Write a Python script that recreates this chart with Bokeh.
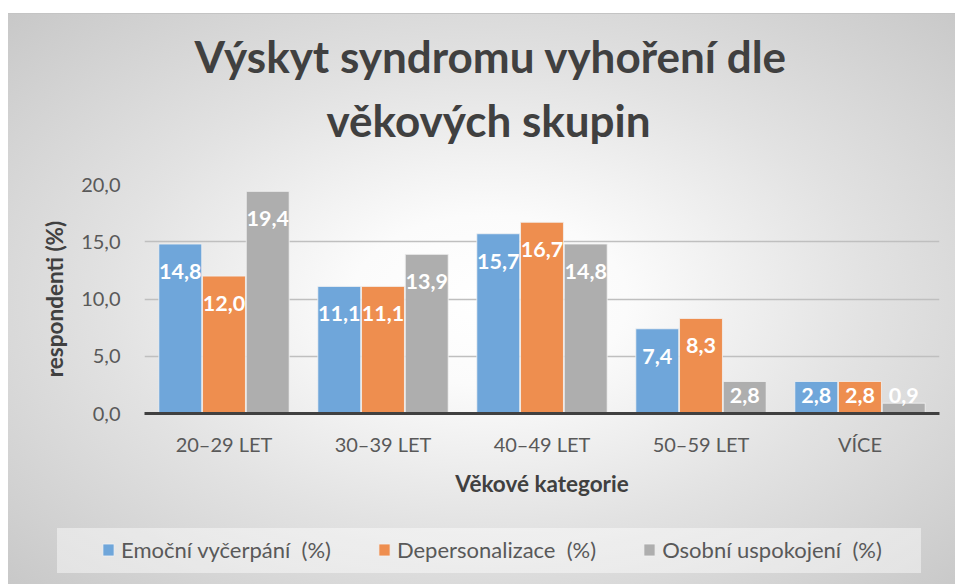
import numpy as np
from bokeh.plotting import figure
from bokeh.layouts import column
from bokeh.models import (ColumnDataSource, FactorRange, LabelSet, Title, Legend, LegendItem,
                          CustomJSTickFormatter, FixedTicker)
from bokeh.core.properties import value
from bokeh.transform import dodge
from bokeh.embed import file_html
from bokeh.resources import INLINE

# ---- data ----
categories = ["20\u201329 LET", "30\u201339 LET", "40\u201349 LET", "50\u201359 LET", "V\u00cdCE"]
emocni = [14.8, 11.1, 15.7, 7.4, 2.8]
deperson = [12.0, 11.1, 16.7, 8.3, 2.8]
osobni = [19.4, 13.9, 14.8, 2.8, 0.9]
series_names = ["Emo\u010dn\u00ed vy\u010derp\u00e1n\u00ed  (%)",
                "Depersonalizace  (%)",
                "Osobn\u00ed uspokojen\u00ed  (%)"]
y_ticks = [0, 5, 10, 15, 20]
title_lines = ["V\u00fdskyt syndromu vyho\u0159en\u00ed dle", "v\u011bkov\u00fdch skupin"]
x_title = "V\u011bkov\u00e9 kategorie"
y_title = "respondenti (%)"

colors = ["#6fa6da", "#ee8e4f", "#aeaeae"]
FONT = "Lato"


def fmt(v):
    return ("%.1f" % v).replace(".", ",")


def label_pos(vals):
    return list(np.maximum(np.array(vals) - 2.4, 1.6))


src = ColumnDataSource(dict(
    cat=categories,
    emo=emocni, dep=deperson, oso=osobni,
    emo_t=[fmt(v) for v in emocni],
    dep_t=[fmt(v) for v in deperson],
    oso_t=[fmt(v) for v in osobni],
    emo_y=label_pos(emocni), dep_y=label_pos(deperson), oso_y=label_pos(osobni),
))

# ---------------- main chart ----------------
p = figure(x_range=FactorRange(*categories), y_range=(0, 20),
           frame_width=795, frame_height=229, output_backend="svg", toolbar_location=None,
           min_border_left=144, min_border_right=16, min_border_top=184,
           min_border_bottom=107)
p.x_range.range_padding = 0
p.title.visible = False
p.border_fill_color = None
p.background_fill_color = None
p.outline_line_color = None

offsets = [-0.275, 0.0, 0.275]
keys = ["emo", "dep", "oso"]
for k, off, c in zip(keys, offsets, colors):
    p.vbar(x=dodge("cat", off, range=p.x_range), top=k, width=0.27, source=src,
           fill_color=c, line_color="#f2f2f2", line_width=1, line_alpha=0.8)
    p.add_layout(LabelSet(x=dodge("cat", off, range=p.x_range), y=k + "_y", text=k + "_t",
                          source=src, text_color="white", text_font=value(FONT),
                          text_font_style="bold", text_font_size="21.5px",
                          text_align="center", text_baseline="middle"))

p.xgrid.grid_line_color = None
p.ygrid.grid_line_color = "#bfbfbf"
p.ygrid.grid_line_width = 1.5
p.yaxis.ticker = FixedTicker(ticks=y_ticks)

p.yaxis.formatter = CustomJSTickFormatter(code="return tick.toFixed(1).replace('.', ',');")
for ax in (p.xaxis[0], p.yaxis[0]):
    ax.major_tick_line_color = None
    ax.minor_tick_line_color = None
    ax.major_label_text_font = FONT
    ax.major_label_text_font_size = "20px"
    ax.major_label_text_color = "#595959"
    ax.axis_label_text_font = FONT
    ax.axis_label_text_font_style = "bold"
    ax.axis_label_text_font_size = "22.5px"
    ax.axis_label_text_color = "#404040"
p.yaxis.axis_line_color = None
p.yaxis.major_label_standoff = 18
p.yaxis.axis_label = y_title
p.yaxis.axis_label_standoff = 10
p.xaxis.axis_line_color = "#404040"
p.xaxis.axis_line_width = 3
p.xaxis.major_label_standoff = 12
p.xaxis.axis_label = x_title
p.xaxis.axis_label_standoff = 11

# title (two lines, stacked above the frame; a blank spacer first)
p.add_layout(Title(text=" ", text_font_size="20px"), "above")
p.add_layout(Title(text=title_lines[1], align="left", offset=182, text_font=FONT,
                   text_font_style="bold", text_font_size="44px", text_color="#404040"),
             "above")
p.add_layout(Title(text=title_lines[0], align="left", offset=50, text_font=FONT,
                   text_font_style="bold", text_font_size="44px", text_color="#404040"),
             "above")

# ---------------- legend strip ----------------
q = figure(x_range=FactorRange(*categories), y_range=(1000, 1001),
           width=955, height=64, output_backend="svg", toolbar_location=None,
           min_border_left=0, min_border_right=0, min_border_top=0, min_border_bottom=0)
q.title.visible = False
q.axis.visible = False
q.grid.grid_line_color = None
q.border_fill_color = None
q.background_fill_color = None
q.outline_line_color = None
items = []
for k, off, c, name in zip(keys, offsets, colors, series_names):
    r = q.vbar(x=dodge("cat", off, range=q.x_range), top=k, width=0.27, source=src,
               fill_color=c, line_color="#f2f2f2", line_width=1, line_alpha=0.8)
    items.append(LegendItem(label=name, renderers=[r]))

lg = Legend(items=items, orientation="horizontal", location=(101, 21),
            background_fill_alpha=0, border_line_color=None, padding=0, margin=0,
            spacing=46, label_standoff=6, glyph_width=14, glyph_height=15,
            label_text_font=FONT, label_text_font_size="22px", label_text_color="#595959")
q.add_layout(lg)

# do not align the legend strip's frame with the chart's frame
for fig in (p, q):
    try:
        fig.frame_align = False
    except Exception:
        pass

lay = column(p, q, spacing=0)
lay.styles = {
    "background": (
        "linear-gradient(#ffffff,#ffffff) 0 0 / 100% 13px no-repeat, "
        "linear-gradient(#ffffff,#ffffff) 0 0 / 8px 100% no-repeat, "
        "linear-gradient(#c4c4c4,#c4c4c4) 8px 13px / 100% 1px no-repeat, "
        "linear-gradient(rgba(255,255,255,0.45),rgba(255,255,255,0.45)) 57px 528px / 864px 45px no-repeat, "
        "radial-gradient(ellipse farthest-corner at 489px 300px, #ffffff 0%, #fbfbfb 20%, "
        "#e2e2e2 55%, #c6c6c6 100%)"
    )
}

open("out.html", "w").write(file_html(lay, INLINE))
